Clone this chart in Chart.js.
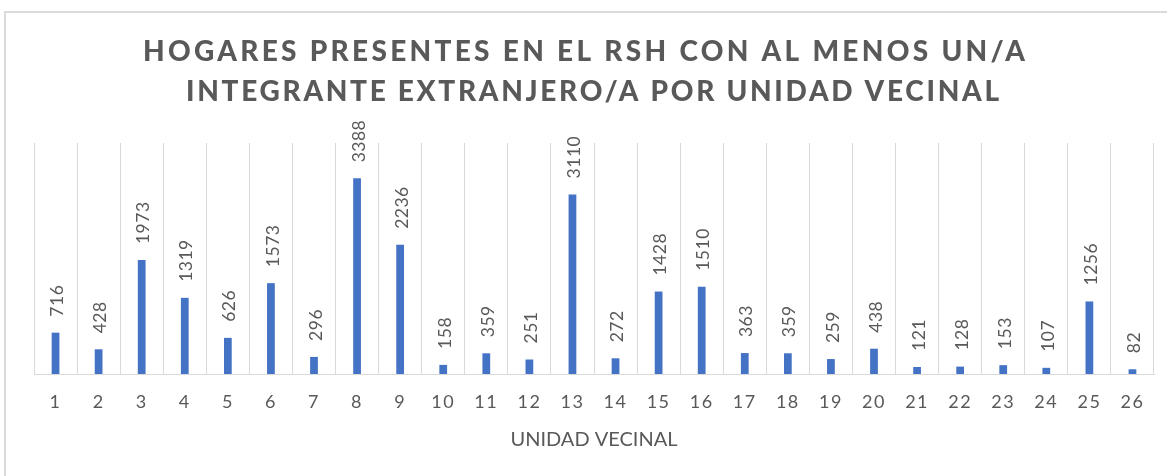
<!DOCTYPE html>
<html>
<head>
<meta charset="utf-8">
<script src="https://cdn.jsdelivr.net/npm/chart.js@4.4.1/dist/chart.umd.min.js"></script>
<style>
    html, body { margin: 0; padding: 0; background: #fff; overflow: hidden; }
    #wrap { position: relative; width: 1167px; height: 476px; }
    #frame {
        position: absolute; left: 4px; top: 11px; width: 1200px; height: 500px;
        border-left: 2px solid #d9d9d9; border-top: 2px solid #d9d9d9;
    }
    #myChart { position: absolute; left: 0; top: 0; }
</style>
</head>
<body>
<div id="wrap">
    <div id="frame"></div>
    <canvas id="myChart" width="1167" height="476"></canvas>
</div>
<script>
// datos
const unidades = ["1", "2", "3", "4", "5", "6", "7", "8", "9", "10", "11", "12", "13",
                  "14", "15", "16", "17", "18", "19", "20", "21", "22", "23", "24", "25", "26"];
const hogares = [716, 428, 1973, 1319, 626, 1573, 296, 3388, 2236, 158, 359, 251, 3110,
                 272, 1428, 1510, 363, 359, 259, 438, 121, 128, 153, 107, 1256, 82];
const tituloLineas = ["HOGARES PRESENTES EN EL RSH CON AL MENOS UN/A",
                      "INTEGRANTE EXTRANJERO/A POR UNIDAD VECINAL"];
const tituloEje = "UNIDAD VECINAL";

const gris = '#595959';
const FONT = 'Lato, "Noto Sans", sans-serif';

// ancho y centro de cada linea del titulo (como en Excel)
const tituloAncho = [882, 813];
const tituloCentro = [584, 592.5];

// espaciado de letras para las etiquetas del eje
const spacingPlugin = {
    id: 'spacing',
    beforeDraw: (chart) => {
        chart.ctx.letterSpacing = '1.5px';
    }
};

// etiquetas de valores (rotadas)
const valoresPlugin = {
    id: 'valores',
    afterDatasetsDraw: (chart) => {
        const ctx = chart.ctx;
        const meta = chart.getDatasetMeta(0);
        ctx.save();
        ctx.letterSpacing = '0.5px';
        ctx.font = '17.5px ' + FONT;
        ctx.fillStyle = gris;
        ctx.textAlign = 'left';
        ctx.textBaseline = 'middle';
        meta.data.forEach((bar, i) => {
            ctx.save();
            ctx.translate(bar.x + 2, bar.y - 16);
            ctx.rotate(-Math.PI / 2);
            ctx.fillText(String(hogares[i]), 0, 0);
            ctx.restore();
        });
        ctx.restore();
    }
};

// titulo y titulo del eje
const tituloPlugin = {
    id: 'titulo',
    afterDraw: (chart) => {
        const ctx = chart.ctx;
        ctx.save();
        ctx.fillStyle = gris;
        ctx.textBaseline = 'middle';
        ctx.textAlign = 'left';
        ctx.font = '900 28px ' + FONT;
        tituloLineas.forEach((linea, i) => {
            ctx.letterSpacing = '0px';
            let w0 = ctx.measureText(linea).width;
            let sp = (tituloAncho[i] - w0) / (linea.length - 1);
            ctx.letterSpacing = sp + 'px';
            ctx.fillText(linea, tituloCentro[i] - tituloAncho[i] / 2, 52 + i * 40);
        });

        ctx.letterSpacing = '0px';
        ctx.font = '20px ' + FONT;
        ctx.textAlign = 'center';
        let xs = chart.scales.x;
        ctx.fillText(tituloEje, (xs.left + xs.right) / 2, 440);
        ctx.restore();
    }
};

const myChartRef = document.getElementById('myChart').getContext('2d');
new Chart(myChartRef, {
    type: 'bar',
    data: {
        labels: unidades,
        datasets: [{
            label: 'Hogares',
            data: hogares,
            backgroundColor: '#4472C4',
            borderWidth: 0,
            barPercentage: 0.18,
            categoryPercentage: 1.0
        }]
    },
    options: {
        responsive: false,
        animation: false,
        layout: {
            padding: { top: 143, left: 34, right: 13, bottom: 0 }
        },
        plugins: {
            legend: { display: false },
            title: { display: false },
            tooltip: { enabled: false }
        },
        scales: {
            x: {
                grid: {
                    color: '#d9d9d9',
                    lineWidth: 1,
                    drawTicks: false,
                    offset: true
                },
                border: { color: '#d9d9d9', width: 1 },
                ticks: {
                    color: gris,
                    font: { family: FONT, size: 18 },
                    padding: 17,
                    maxRotation: 0,
                    autoSkip: false
                },
                afterFit: (scale) => { scale.height = 102; }
            },
            y: {
                display: false,
                min: 0,
                max: 4000
            }
        }
    },
    plugins: [spacingPlugin, valoresPlugin, tituloPlugin]
});
</script>
</body>
</html>
